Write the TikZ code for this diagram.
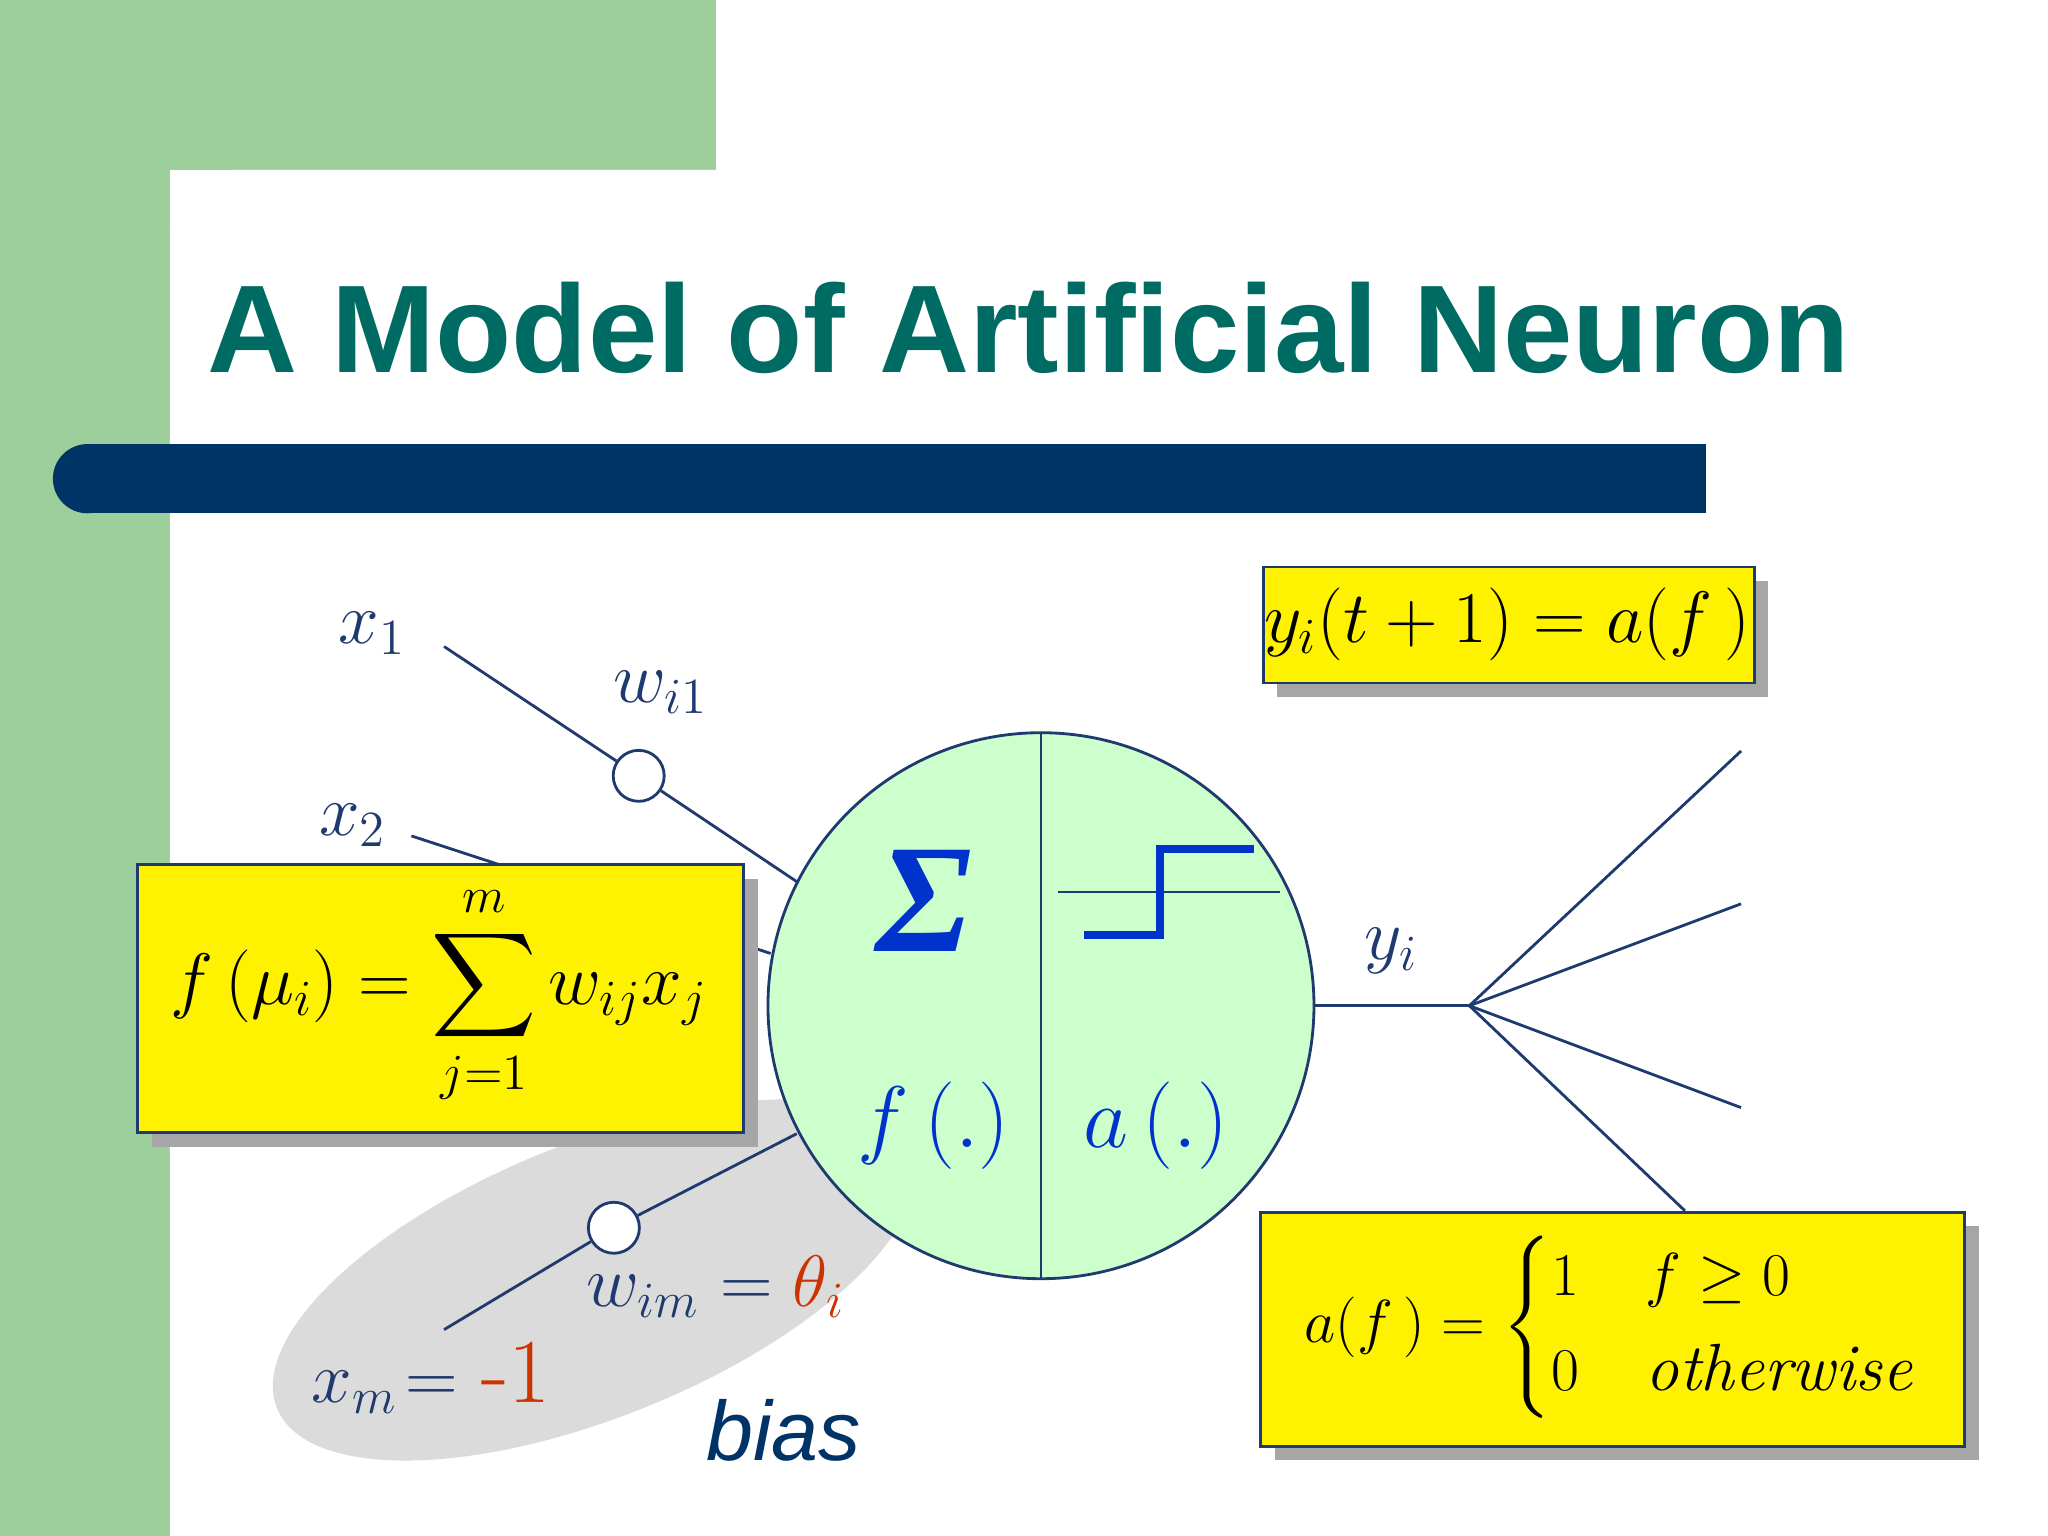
\documentclass[tikz,border=0pt]{standalone}
\usepackage{fontspec}
\usepackage{amsmath}
\newfontfamily\titlefont{Liberation Sans}
\newfontfamily\sigfont{Liberation Serif}
\definecolor{bggreen}{HTML}{9CCF9C}
\definecolor{titleteal}{HTML}{006B63}
\definecolor{barblue}{HTML}{003366}
\definecolor{ink}{HTML}{1F3A6E}
\definecolor{neuron}{HTML}{CCFFCC}
\definecolor{sigblue}{HTML}{0033CC}
\definecolor{biasred}{HTML}{CC3300}
\newcommand{\fsz}[1]{\fontsize{#1}{#1}\selectfont}
\tikzset{
  wire/.style={draw=ink, line width=0.8pt},
  wnode/.style={circle, draw=ink, fill=white, minimum size=0.51cm, inner sep=0pt, line width=0.8pt},
  ybox/.style={draw=ink, fill=yellow, line width=0.8pt},
  shadow/.style={fill=gray!70},
  lab/.style={text=ink, inner sep=0pt}
}
\begin{document}
\begin{tikzpicture}[x=0.01306cm, y=-0.01306cm]
\useasboundingbox (0,0) rectangle (1568,1176);
\fill[bggreen] (0,0) rectangle (548,130);
\fill[bggreen] (0,0) rectangle (130,1176);
\fill[white] (130,1176) -- (130,180) arc[start angle=180, end angle=270, radius=50] -- (548,130) -- (1568,130) -- (1568,1176) -- cycle;
\fill[white] (548,0) rectangle (1568,130);
\node[anchor=base west, text=titleteal, inner sep=0pt, font=\titlefont\bfseries\fsz{35.5}] (title) at (158,285) {A Model of Artificial Neuron};
\fill[barblue] (67,340) rectangle (1306,393);
\fill[barblue] (67,366.5) circle[radius=26.5];
\fill[gray!28] (455,980) ellipse[x radius=262, y radius=105, rotate=22];
\node[circle, draw=ink, fill=neuron, minimum size=5.46cm, inner sep=0pt, line width=0.8pt] (neu) at (797,770) {};
\coordinate (vt) at (797,562);
\coordinate (vb) at (797,980);
\draw[wire] (vt) -- (vb);
\node[text=sigblue, inner sep=0pt, font=\sigfont\bfseries\itshape\fsz{44}] (sigma) at (708,690) {Σ};
\coordinate (h1) at (810,683); \coordinate (h2) at (980,683);
\draw[draw=ink, line width=0.6pt] (h1) -- (h2);
\coordinate (s1) at (830,716); \coordinate (s2) at (888,716); \coordinate (s3) at (888,650); \coordinate (s4) at (960,650);
\draw[sigblue, line width=2.2pt] (s1) -- (s2) -- (s3) -- (s4);
\node[text=sigblue, font=\fsz{26}, inner sep=0pt] (fdot) at (715,862) {$f\,(.)$};
\node[text=sigblue, font=\fsz{26}, inner sep=0pt] (adot) at (885,862) {$a\,(.)$};
\coordinate (x1e) at (340,495); \coordinate (x1n) at (610,675);
\node[wnode] (c1) at (489,594) {};
\draw[wire] (x1e) -- (c1) -- (x1n);
\node[lab, font=\fsz{22}] (x1) at (285,485) {$x_1$};
\node[lab, font=\fsz{22}] (w1) at (506,530) {$w_{i1}$};
\coordinate (x2e) at (315,640); \coordinate (x2n) at (590,730);
\draw[wire] (x2e) -- (x2n);
\node[lab, font=\fsz{22}] (x2) at (270,632) {$x_2$};
\coordinate (xme) at (340,1018); \coordinate (xmn) at (610,868);
\node[wnode] (cm) at (470,940) {};
\draw[wire] (xme) -- (cm) -- (xmn);
\node[lab, font=\fsz{22}] (xm) at (330,1055) {$x_m\!=$ \textcolor{biasred}{\fsz{26}-1}};
\node[lab, font=\fsz{22}] (wm) at (548,985) {$w_{im}=\textcolor{biasred}{\theta_i}$};
\node[text=barblue, inner sep=0pt, font=\titlefont\itshape\fsz{24}] (bias) at (600,1095) {bias};
\node[lab, font=\fsz{22}] (dots) at (275,875) {.};
\fill[shadow] (116,673) rectangle (580,878);
\node[ybox, minimum width=6.06cm, minimum height=2.68cm, anchor=north west] (fbox) at (104,661) {};
\node[text=black, font=\fsz{20}, inner sep=0pt] (feq) at (336,762) {$\displaystyle f\,(\mu_i)=\sum_{j=1}^{m} w_{ij}x_j$};
\coordinate (yo) at (1125,770);
\draw[wire] (neu.east) -- (yo);
\coordinate (o1) at (1333,575); \coordinate (o2) at (1333,692); \coordinate (o3) at (1333,848); \coordinate (o4) at (1290,927);
\draw[wire] (yo) -- (o1); \draw[wire] (yo) -- (o2); \draw[wire] (yo) -- (o3); \draw[wire] (yo) -- (o4);
\node[lab, font=\fsz{22}] (yi) at (1065,728) {$y_i$};
\fill[shadow] (978,445) rectangle (1354,534);
\node[ybox, minimum width=4.91cm, minimum height=1.16cm, anchor=north west] (ybox) at (966,433) {};
\node[text=black, font=\fsz{20}, inner sep=0pt] (yeq) at (1154,478) {$y_i(t+1)=a(f\,)$};
\fill[shadow] (976,939) rectangle (1515,1118);
\node[ybox, minimum width=7.04cm, minimum height=2.34cm, anchor=north west] (abox) at (964,927) {};
\node[text=black, font=\fsz{19}, inner sep=0pt] (aeq) at (1233,1016) {$a(f\,)=\begin{cases}1 & f\geq 0\\[4pt] 0 & \mathit{otherwise}\end{cases}$};
\end{tikzpicture}
\end{document}
